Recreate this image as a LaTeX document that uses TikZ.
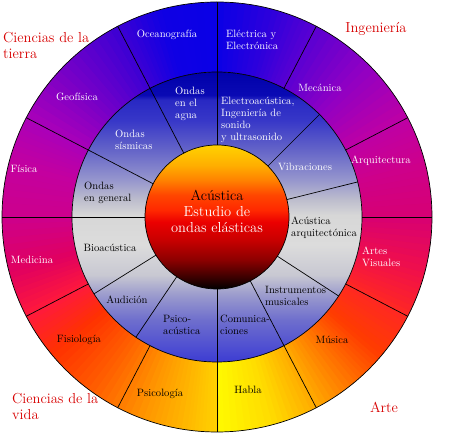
\documentclass[tikz,border=0pt]{standalone}
\usepackage{tikz}

% colours of the outer ring, going round from the bottom
\definecolor{s1}{RGB}{255,250,0}
\definecolor{s2}{RGB}{255,220,0}
\definecolor{s3}{RGB}{255,170,0}
\definecolor{s4}{RGB}{255,110,0}
\definecolor{s5}{RGB}{255,60,0}
\definecolor{s6}{RGB}{255,40,35}
\definecolor{s7}{RGB}{240,15,75}
\definecolor{s8}{RGB}{215,0,115}
\definecolor{s9}{RGB}{205,0,140}
\definecolor{s10}{RGB}{190,0,165}
\definecolor{s11}{RGB}{145,0,195}
\definecolor{s12}{RGB}{90,0,210}
\definecolor{s13}{RGB}{45,0,220}
\definecolor{s14}{RGB}{10,0,230}
\definecolor{s15}{RGB}{15,0,228}
\definecolor{s16}{RGB}{60,0,212}
\definecolor{s17}{RGB}{115,0,200}
\definecolor{s18}{RGB}{170,0,185}
\definecolor{s19}{RGB}{195,0,160}
\definecolor{s20}{RGB}{205,0,140}
\definecolor{s21}{RGB}{225,0,95}
\definecolor{s22}{RGB}{255,25,60}
\definecolor{s23}{RGB}{255,50,0}
\definecolor{s24}{RGB}{255,95,0}
\definecolor{s25}{RGB}{255,150,0}
\definecolor{s26}{RGB}{255,185,0}
\definecolor{s27}{RGB}{255,210,0}

% middle ring
\definecolor{m1}{RGB}{60,60,210}
\definecolor{m2}{RGB}{75,75,210}
\definecolor{m3}{RGB}{110,110,205}
\definecolor{m4}{RGB}{155,155,205}
\definecolor{m5}{RGB}{200,200,210}
\definecolor{m6}{RGB}{220,220,220}
\definecolor{m7}{RGB}{215,215,215}
\definecolor{m8}{RGB}{190,190,205}
\definecolor{m9}{RGB}{150,150,205}
\definecolor{m10}{RGB}{100,100,200}
\definecolor{m11}{RGB}{55,55,200}
\definecolor{m12}{RGB}{40,40,195}
\definecolor{m13}{RGB}{10,10,180}
\definecolor{m14}{RGB}{0,0,170}

% core
\definecolor{k1}{RGB}{0,0,0}
\definecolor{k2}{RGB}{70,0,0}
\definecolor{k3}{RGB}{140,0,0}
\definecolor{k4}{RGB}{200,0,0}
\definecolor{k5}{RGB}{235,0,0}
\definecolor{k6}{RGB}{255,40,0}
\definecolor{k7}{RGB}{255,70,0}
\definecolor{k8}{RGB}{255,130,0}
\definecolor{k9}{RGB}{255,175,0}
\definecolor{k10}{RGB}{255,210,0}

\definecolor{fieldred}{RGB}{215,0,0}

\pgfdeclareverticalshading{midring}{100bp}{color(0bp)=(m1); color(25bp)=(m1);
  color(27.1bp)=(m2); color(32.2bp)=(m3); color(36.6bp)=(m4); color(40bp)=(m5);
  color(45.2bp)=(m6); color(50.3bp)=(m7); color(52.9bp)=(m8); color(56.4bp)=(m9);
  color(61.6bp)=(m10); color(66.7bp)=(m11); color(70.2bp)=(m12); color(71bp)=(m13);
  color(75bp)=(m14); color(100bp)=(m14)}

\pgfdeclareverticalshading{core}{100bp}{color(0bp)=(k1); color(25bp)=(k1);
  color(29.9bp)=(k2); color(35.1bp)=(k3); color(42bp)=(k4); color(48.3bp)=(k5);
  color(52.4bp)=(k6); color(57.6bp)=(k7); color(62.8bp)=(k8); color(68.1bp)=(k9);
  color(75bp)=(k10); color(100bp)=(k10)}

\begin{document}
\begin{tikzpicture}[x=1pt,y=1pt,
    sep/.style={line width=0.7pt},
    ringtxt/.style={font=\fontsize{10.6}{12}\selectfont,text=white,inner sep=0pt,align=center},
    darktxt/.style={ringtxt,text=black},
    fieldtxt/.style={font=\fontsize{14.5}{15.5}\selectfont,text=fieldred,inner sep=0pt,align=left}]
	\useasboundingbox (0,0) rectangle (474,438);
	\begin{scope}[shift={(217,221)}]
		% outer ring, shaded round the circle
		\foreach \a/\b/\ca/\cb in {-90/-75/s1/s2,-75/-62.5/s2/s3,-62.5/-50/s3/s4,-50/-40/s4/s5,
			-40/-27.5/s5/s6,-27.5/-15/s6/s7,-15/0/s7/s8,0/15/s8/s9,15/27.5/s9/s10,27.5/45/s10/s11,
			45/62.5/s11/s12,62.5/75/s12/s13,75/90/s13/s14,90/105/s14/s15,105/117.5/s15/s16,
			117.5/135/s16/s17,135/152.5/s17/s18,152.5/165/s18/s19,165/180/s19/s20,180/195/s20/s21,
			195/207.5/s21/s22,207.5/220/s22/s23,220/235/s23/s24,235/250/s24/s25,250/262/s25/s26,
			262/270/s26/s27}{
			\foreach \i in {0,...,7}{
				\pgfmathsetmacro\s{\a+(\b-\a)*\i/8}
				\pgfmathsetmacro\e{\a+(\b-\a)*(\i+1)/8+0.4}
				\pgfmathtruncatemacro\p{100*(\i+0.5)/8}
				\fill[\cb!\p!\ca] (\s:145) arc [start angle=\s, end angle=\e, radius=145]
					-- (\e:215) arc [start angle=\e, end angle=\s, radius=215] -- cycle;
			}
		}
		\shade[shading=midring] (0,0) circle [radius=145];
		\shade[shading=core] (0,0) circle [radius=72];
		% dividing lines
		\foreach \t in {180,152.5,117.5,90,-62.5,-90}
			\draw[sep] (\t:72) -- (\t:215);
		\foreach \t in {62.5,27.5,0,-27.5,-117.5,-152.5}
			\draw[sep] (\t:145) -- (\t:215);
		\foreach \t in {45,14,-33,-124,-148}
			\draw[sep] (\t:72) -- (\t:145);
		\draw[sep] (0,0) circle [radius=215];
		\draw[sep] (0,0) circle [radius=145];
		\draw[sep] (0,0) circle [radius=72];
	\end{scope}

	% fields
	\node[fieldtxt,anchor=west] (tierra) at (3,392.5) {Ciencias de la\\tierra};
	\node[fieldtxt] (ing) at (376,409) {Ingeniería};
	\node[fieldtxt,anchor=west] (vida) at (12,31.5) {Ciencias de la\\vida};
	\node[fieldtxt] (arte) at (384,31) {Arte};

	% outer ring
	\node[ringtxt] (ocea) at (167,403) {Oceanografía};
	\node[ringtxt,anchor=west,align=left] (elec) at (226,398) {Eléctrica y\\Electrónica};
	\node[ringtxt] (geof) at (77,341) {Geofísica};
	\node[ringtxt] (meca) at (320,350) {Mecánica};
	\node[ringtxt] (fisi) at (24,269) {Física};
	\node[ringtxt] (arqu) at (381,277) {Arquitectura};
	\node[ringtxt] (medi) at (32,178) {Medicina};
	\node[ringtxt,anchor=west,align=left] (vis) at (362,181.5) {Artes\\Visuales};
	\node[darktxt] (fisio) at (79,98) {Fisiología};
	\node[darktxt] (musi) at (332,98) {Música};
	\node[darktxt] (psico) at (160,44) {Psicología};
	\node[darktxt] (habla) at (248,48) {Habla};

	% middle ring
	\node[ringtxt,anchor=west,align=left] (agua) at (175,334.5) {Ondas\\en el\\agua};
	\node[ringtxt,anchor=west,align=left] (eac) at (221,318.5) {Electroacústica,\\Ingeniería de\\sonido\\y ultrasonido};
	\node[ringtxt,anchor=west,align=left] (sism) at (115,298.5) {Ondas\\sísmicas};
	\node[ringtxt] (vibr) at (305,271) {Vibraciones};
	\node[darktxt,anchor=west,align=left] (gen) at (84,245.5) {Ondas\\en general};
	\node[darktxt,anchor=west,align=left] (aarq) at (291,210.5) {Acústica\\arquitectónica};
	\node[darktxt] (bio) at (110,190) {Bioacústica};
	\node[darktxt] (aud) at (127,138) {Audición};
	\node[darktxt,anchor=west,align=left] (pac) at (163,113) {Psico-\\acústica};
	\node[darktxt,anchor=west,align=left] (com) at (220,113) {Comunica-\\ciones};
	\node[darktxt,anchor=west,align=left] (ins) at (265,142.5) {Instrumentos\\musicales};

	% core
	\node[font=\fontsize{14.5}{16}\selectfont,text=white,align=center,inner sep=0pt] (nucleo) at (217,227)
		{\textcolor{black}{Acústica}\\Estudio de\\ondas elásticas};
\end{tikzpicture}
\end{document}
